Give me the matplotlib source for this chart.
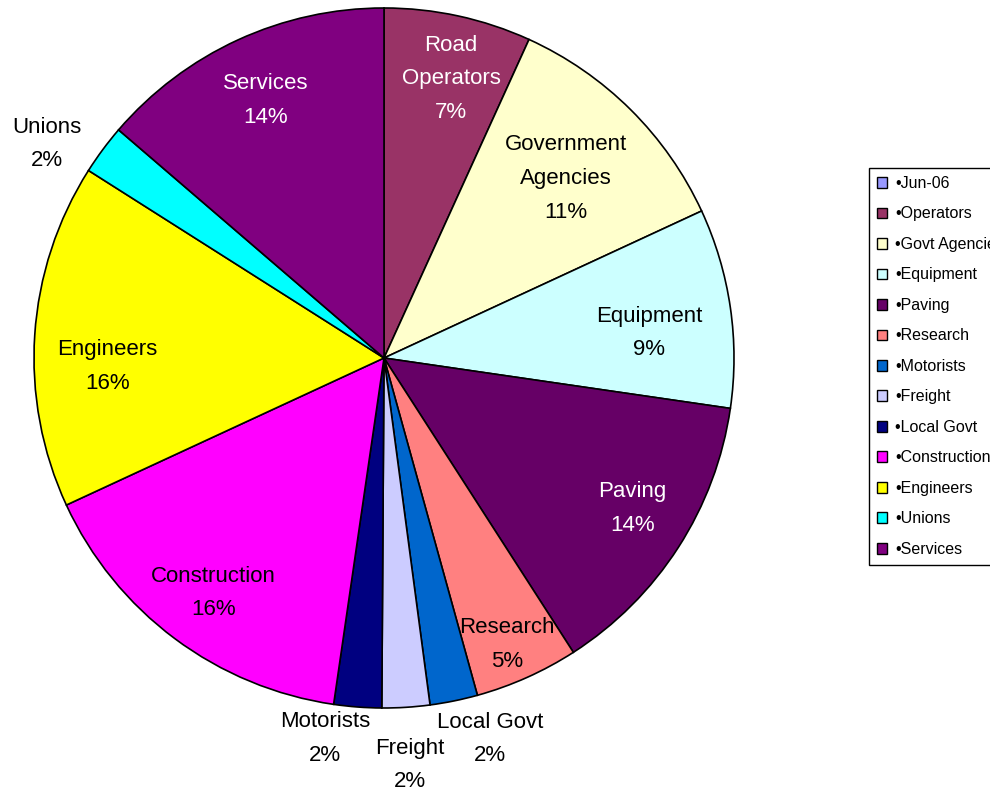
import numpy as np
import matplotlib.pyplot as plt
from matplotlib.patches import Patch

plt.rcParams['font.family'] = ['Liberation Sans', 'DejaVu Sans']

# slices, clockwise from 12 o'clock
slice_names = ['Road\nOperators', 'Government\nAgencies', 'Equipment', 'Paving',
               'Research', 'Local Govt', 'Freight', 'Motorists',
               'Construction', 'Engineers', 'Unions', 'Services']
shares = [6.8, 11.3, 9.2, 13.6, 4.8, 2.2, 2.2, 2.2, 15.8, 15.9, 2.3, 13.7]
slice_colors = ['#993366', '#FFFFCC', '#CCFFFF', '#660066', '#FF8080', '#0066CC',
                '#CCCCFF', '#000080', '#FF00FF', '#FFFF00', '#00FFFF', '#800080']

# legend as it appears (series header first)
legend_labels = ['•Jun-06', '•Operators', '•Govt Agencies', '•Equipment', '•Paving',
                 '•Research', '•Motorists', '•Freight', '•Local Govt',
                 '•Construction', '•Engineers', '•Unions', '•Services']
legend_colors = ['#9999FF'] + slice_colors

# label placement: radius (fraction of pie radius), clockwise nudge in degrees, text colour
label_r = [0.82, 0.73, 0.76, 0.83, 0.89, 1.13, 1.165, 1.10, 0.83, 0.79, 1.14, 0.81]
label_nudge = [1.3, 0.6, 2.9, -1.6, 0.9, -4.0, 0.0, 4.5, -0.7, -5.6, -4.1, 0.0]
label_col = ['white', 'black', 'black', 'white', 'black', 'black', 'black', 'black',
             'black', 'black', 'black', 'white']

fig = plt.figure(figsize=(9.9, 7.91), dpi=100)
ax = fig.add_axes([34 / 990, 1 - 708 / 791, 700 / 990, 700 / 791])

wedges, _ = ax.pie(shares, colors=slice_colors, startangle=90, counterclock=False,
                   wedgeprops=dict(edgecolor='black', linewidth=1.2))
ax.set_xlim(-1, 1)
ax.set_ylim(-1, 1)
ax.set_aspect('equal')
ax.axis('off')

for w, name, val, r, nd, c in zip(wedges, slice_names, shares, label_r, label_nudge, label_col):
    th = np.radians((w.theta1 + w.theta2) / 2 - nd)
    ax.text(r * np.cos(th), r * np.sin(th), f'{name}\n{round(val):.0f}%',
            ha='center', va='center', multialignment='center',
            fontsize=16, color=c, linespacing=1.8)

handles = [Patch(facecolor=c, edgecolor='black', linewidth=1.0) for c in legend_colors]
leg = fig.legend(handles, legend_labels, loc='upper left',
                 bbox_to_anchor=(869 / 990, 1 - 168 / 791),
                 frameon=True, fancybox=False, edgecolor='black', framealpha=1,
                 fontsize=11.5, handlelength=0.65, handleheight=0.65,
                 handletextpad=0.5, labelspacing=0.97, borderpad=0.5,
                 borderaxespad=0)
leg.get_frame().set_linewidth(1.0)

fig.savefig('out.png', dpi=100)
